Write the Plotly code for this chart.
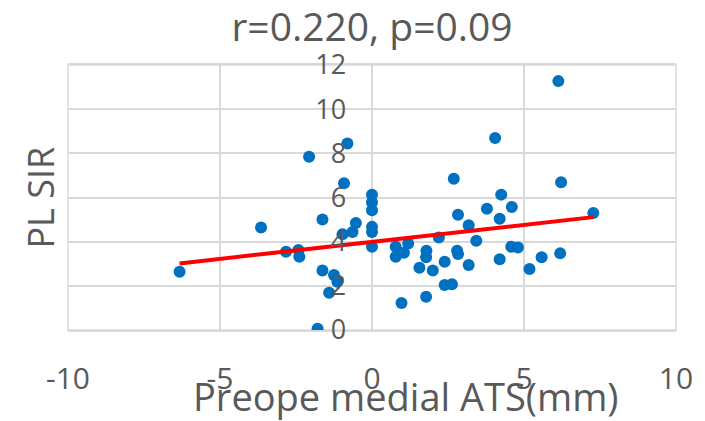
import plotly.graph_objects as go

# Data
ats_mm = [-6.33, -3.65, -2.83, -2.42, -2.39, -2.07, -1.79, -1.63, -1.63, -1.41,
          -1.25, -1.14, -0.97, -0.92, -0.81, -0.64, -0.53,
          0.0, 0.0, 0.0, 0.0, 0.0, 0.0,
          0.78, 0.78, 0.97, 1.05, 1.19, 1.56, 1.78, 1.78, 1.79, 2.0, 2.2, 2.39, 2.39,
          2.63, 2.69, 2.8, 2.83, 2.83, 3.18, 3.18, 3.43, 3.78, 4.05, 4.2, 4.2, 4.25,
          4.58, 4.6, 4.8, 5.18, 5.58, 6.13, 6.19, 6.22, 7.28]
pl_sir = [2.64, 4.64, 3.54, 3.62, 3.32, 7.85, 0.06, 5.0, 2.69, 1.69,
          2.49, 2.19, 4.34, 6.65, 8.45, 4.44, 4.85,
          6.13, 5.79, 5.42, 4.67, 4.44, 3.77,
          3.77, 3.32, 1.22, 3.5, 3.92, 2.82, 3.29, 1.51, 3.59, 2.69, 4.19, 3.09, 2.04,
          2.07, 6.85, 3.59, 5.22, 3.44, 4.74, 2.94, 4.04, 5.49, 8.69, 5.04, 3.2, 6.13,
          3.77, 5.57, 3.74, 2.76, 3.29, 11.27, 3.47, 6.69, 5.3]

trend_slope = 0.154
trend_intercept = 3.99

x_ticks = [-10, -5, 0, 5, 10]
y_ticks = [0, 2, 4, 6, 8, 10, 12]

title_text = "r=0.220, p=0.09"
x_title = "Preope medial ATS(mm)"
y_title = "PL SIR"

FONT = "Open Sans, Noto Sans, sans-serif"
GRID = "#d9d9d9"
TXT = "#595959"

trend_x = [min(ats_mm), max(ats_mm)]
trend_y = [trend_intercept + trend_slope * v for v in trend_x]

fig = go.Figure()
fig.add_trace(go.Scatter(
    x=ats_mm, y=pl_sir, mode="markers",
    marker=dict(color="#0070C0", size=12, line=dict(width=0)),
    showlegend=False, hoverinfo="x+y"))
fig.add_trace(go.Scatter(
    x=trend_x, y=trend_y, mode="lines",
    line=dict(color="#FF0000", width=4),
    showlegend=False))

fig.update_layout(
    width=705, height=421,
    margin=dict(l=68, r=27, t=65, b=91),
    paper_bgcolor="white", plot_bgcolor="white",
    font=dict(family=FONT, color=TXT),
    title=dict(text=title_text, x=0.5, xanchor="center", xref="paper",
               y=1 - 27 / 421, yanchor="middle",
               font=dict(size=39, color=TXT, family=FONT)),
    xaxis=dict(range=[-10, 10], tickvals=x_ticks, ticktext=[str(v) for v in x_ticks],
               showgrid=True, gridcolor=GRID, gridwidth=1.5,
               zeroline=True, zerolinecolor=GRID, zerolinewidth=1.5,
               showline=True, linecolor=GRID, linewidth=1.5, mirror=True,
               ticks="outside", ticklen=21, tickcolor="rgba(0,0,0,0)",
               tickfont=dict(size=30, color=TXT, family=FONT),
               fixedrange=True),
    yaxis=dict(range=[0, 12], tickvals=y_ticks, ticktext=[str(v) for v in y_ticks],
               anchor="free", position=279 / 610,
               showgrid=True, gridcolor=GRID, gridwidth=1.5,
               zeroline=True, zerolinecolor=GRID, zerolinewidth=1.5,
               showline=False, ticks="",
               tickfont=dict(size=27, color=TXT, family=FONT),
               fixedrange=True),
    annotations=[
        dict(text=x_title, xref="paper", yref="paper", x=339 / 610, y=-66 / 265,
             xanchor="center", yanchor="middle", showarrow=False,
             font=dict(size=38, color=TXT, family=FONT)),
        dict(text=y_title, xref="paper", yref="paper", x=-28 / 610, y=0.5,
             xanchor="center", yanchor="middle", showarrow=False, textangle=-90,
             font=dict(size=36, color=TXT, family=FONT)),
    ],
)
fig.add_shape(type="rect", xref="paper", yref="paper", x0=0, x1=1, y0=0, y1=1,
              line=dict(color=GRID, width=1.5), layer="below")

fig.write_html("out.html", config={"displayModeBar": False},
               post_script="document.body.style.margin='0';")
